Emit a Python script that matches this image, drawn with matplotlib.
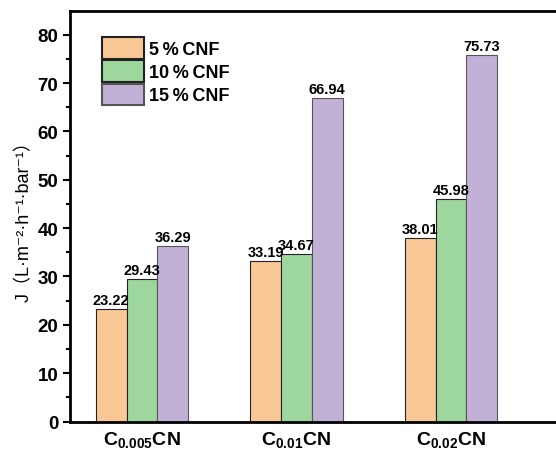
import matplotlib.pyplot as plt
import numpy as np

# 数据
groups = ['C$_{\\mathbf{0.005}}$CN', 'C$_{\\mathbf{0.01}}$CN', 'C$_{\\mathbf{0.02}}$CN']
series = ['5\u2009%\u2009CNF', '10\u2009%\u2009CNF', '15\u2009%\u2009CNF']
flux_5 = [23.22, 33.19, 38.01]
flux_10 = [29.43, 34.67, 45.98]
flux_15 = [36.29, 66.94, 75.73]
colors = ['#F9C896', '#9DD79D', '#C2B1D6']
edges = ['#222222', '#222222', '#555555']

fonts = ['Liberation Sans', 'Noto Sans CJK SC', 'DejaVu Sans']
plt.rcParams['font.family'] = fonts
plt.rcParams['mathtext.fontset'] = 'custom'
plt.rcParams['mathtext.rm'] = 'Liberation Sans'
plt.rcParams['mathtext.bf'] = 'Liberation Sans:bold'

fig = plt.figure(figsize=(5.56, 4.52), dpi=100)
ax = fig.add_axes([70 / 556, 29.5 / 452, 1 - 70 / 556, 411 / 452])

x = np.arange(1, 4)
w = 0.2
for i, vals in enumerate([flux_5, flux_10, flux_15]):
    bars = ax.bar(x + (i - 1) * w, vals, w, color=colors[i], edgecolor=edges[i],
                  linewidth=0.8, label=series[i])
    for b, v in zip(bars, vals):
        ax.text(b.get_x() + b.get_width() / 2, v + 0.4, f'{v:.2f}',
                ha='center', va='bottom', fontsize=10.5, fontweight='bold')

ax.set_xlim(0.534, 3.68)
ax.set_ylim(0, 85)
ax.set_yticks(range(0, 81, 10))
ax.set_yticks(range(5, 81, 10), minor=True)
ax.set_xticks(x)
ax.set_xticklabels(groups, fontsize=14, fontweight='bold')
ax.tick_params(axis='y', labelsize=13.5, width=1.5, length=5, direction='out')
ax.tick_params(axis='y', which='minor', width=1.5, length=3)
ax.tick_params(axis='x', length=0, pad=6)
for lbl in ax.get_yticklabels():
    lbl.set_fontweight('bold')

for s in ['left', 'bottom', 'top']:
    ax.spines[s].set_linewidth(2)
ax.spines['right'].set_visible(False)

ax.set_ylabel('J（L·m⁻²·h⁻¹·bar⁻¹）', fontsize=13, labelpad=3, family=fonts)

leg = ax.legend(loc='upper left', bbox_to_anchor=(0.066, 0.935), frameon=False,
                prop={'weight': 'bold', 'size': 13, 'family': fonts},
                handlelength=2.3, handleheight=1.45, labelspacing=0.1,
                handletextpad=0.3, borderaxespad=0, borderpad=0)
for h in leg.legend_handles:
    h.set_linewidth(1.5)

fig.savefig('out.png', dpi=100)
